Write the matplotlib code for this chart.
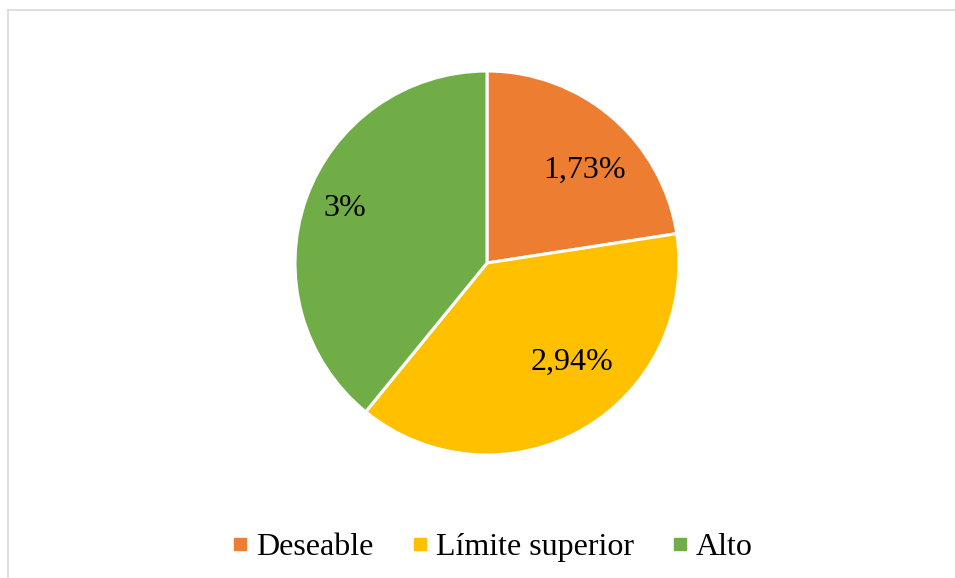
import matplotlib.pyplot as plt
from matplotlib.lines import Line2D

plt.rcParams['font.family'] = ['Liberation Serif', 'DejaVu Serif']

categories = ['Deseable', 'Límite superior', 'Alto']
values = [1.73, 2.94, 3.0]
pct_labels = ['1,73%', '2,94%', '3%']
colors = ['#ED7D31', '#FFC000', '#70AD47']

# label positions inside the pie (radius units), excel "best fit" look
label_pos = [(0.51, 0.484), (0.443, -0.516), (-0.74, 0.286)]

W, H = 955, 578
fig = plt.figure(figsize=(W / 100, H / 100), dpi=100)

# chart area border (light gray, cut at right/bottom)
fig.add_artist(Line2D([7.5 / W, 7.5 / W], [0, 1 - 9.5 / H], transform=fig.transFigure,
                      color='#d9d9d9', lw=1.2))
fig.add_artist(Line2D([7.5 / W, 1], [1 - 9.5 / H, 1 - 9.5 / H], transform=fig.transFigure,
                      color='#d9d9d9', lw=1.2))

cx, cy, r = 487, 578 - 263, 192
ax = fig.add_axes([(cx - r) / W, (cy - r) / H, 2 * r / W, 2 * r / H])
wedges, _ = ax.pie(values, colors=colors, startangle=90, counterclock=False,
                   wedgeprops=dict(edgecolor='white', linewidth=2.2), radius=1)
ax.set_xlim(-1, 1)
ax.set_ylim(-1, 1)
ax.set_aspect('equal')

for lab, (x, y) in zip(pct_labels, label_pos):
    ax.text(x, y, lab, ha='center', va='center', fontsize=23, color='black')

handles = [Line2D([], [], marker='s', linestyle='none', markersize=8.6,
                  markerfacecolor=c, markeredgecolor=c) for c in colors]
fig.legend(handles, categories, loc='center', bbox_to_anchor=(493.5 / W, 31 / H),
           ncol=3, frameon=False, fontsize=23, handlelength=0.4,
           handletextpad=0.3, columnspacing=1.25, borderpad=0, borderaxespad=0)

fig.savefig('out.png', dpi=100)
